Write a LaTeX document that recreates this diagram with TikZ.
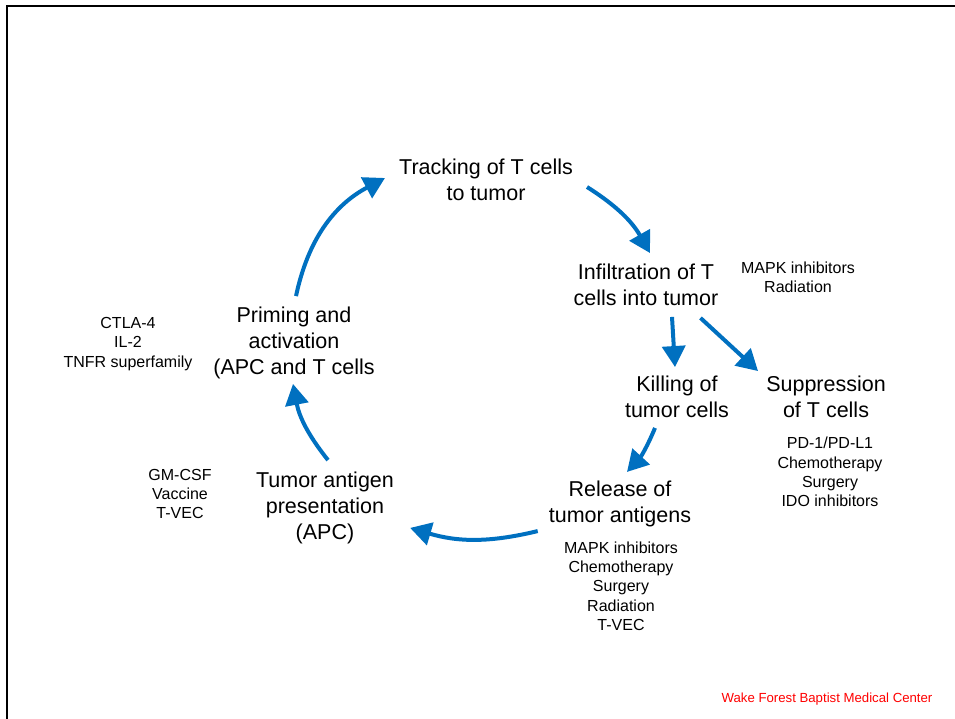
\documentclass[tikz,border=0pt]{standalone}
\usepackage{fontspec}
\setmainfont{Liberation Sans}
\usetikzlibrary{arrows.meta}
\definecolor{flowblue}{RGB}{0,112,192}
\definecolor{creditred}{RGB}{255,0,0}

\begin{document}
\begin{tikzpicture}[x=1pt, y=-1pt,
		stage/.style={align=center, inner sep=0pt, font=\fontsize{21.5}{25.7}\selectfont},
		drugs/.style={align=center, inner sep=0pt, font=\fontsize{16}{19.3}\selectfont},
		flow/.style={draw=flowblue, line width=4pt, -{Triangle[length=21pt,width=23pt]}}]
		%%%%% START %%%%%
		\useasboundingbox (0, 0) rectangle (955, 719);
		
		% frame on top and left
		\draw[line width=2pt] (7, 719) -- (7, 6) -- (955, 6);
		
		% the stages of the cycle
		\node[stage] (track) at (486, 180) {Tracking of T cells\\to tumor};
		\node[stage] (infil) at (646, 285) {Infiltration of T\\cells into tumor};
		\node[stage] (kill) at (677, 397) {Killing of\\tumor cells};
		\node[stage] (supp) at (826, 397) {Suppression\\of T cells};
		\node[stage] (release) at (620, 504) {Release of\\tumor antigens};
		\node[stage] (present) at (325, 508) {Tumor antigen\\presentation\\(APC)};
		\node[stage] (prime) at (294, 343) {Priming and\\activation\\(APC and T cells};
		
		% agents acting on each stage
		\node[drugs] (infildrugs) at (798, 277) {MAPK inhibitors\\Radiation};
		\node[drugs] (suppdrugs) at (830, 472) {PD-1/PD-L1\\Chemotherapy\\Surgery\\IDO inhibitors};
		\node[drugs] (releasedrugs) at (621, 586) {MAPK inhibitors\\Chemotherapy\\Surgery\\Radiation\\T-VEC};
		\node[drugs] (presentdrugs) at (180, 494) {GM-CSF\\Vaccine\\T-VEC};
		\node[drugs] (primedrugs) at (128, 344) {CTLA-4\\IL-2\\TNFR superfamily};
		
		% arrows round the cycle
		\draw[flow] ([shift={(2,-11)}]prime.north) to[bend left=25] ([shift={(-14,-2)}]track.west);
		\draw[flow] ([shift={(14,7)}]track.east) to[bend left=14] ([shift={(4,-11)}]infil.north);
		\draw[flow] ([shift={(26,11)}]infil.south) -- ([shift={(-2,-9)}]kill.north);
		\draw[flow] ([shift={(-18,12)}]infil.south east) -- ([shift={(-8,-5)}]supp.north west);
		\draw[flow] ([shift={(-22,10)}]kill.south) to[bend left=10] ([shift={(7,-9)}]release.north);
		\draw[flow] ([shift={(-11,4)}]release.south west) to[bend left=15] ([shift={(16,-16)}]present.south east);
		\draw[flow] ([shift={(3,-12)}]present.north) to[bend left=14] ([shift={(-1,5)}]prime.south);
		
		\node[text=creditred, font=\fontsize{13.2}{15}\selectfont] (credit) at (827, 699) {Wake Forest Baptist Medical Center};
		%%%%% END %%%%%
\end{tikzpicture}
\end{document}
